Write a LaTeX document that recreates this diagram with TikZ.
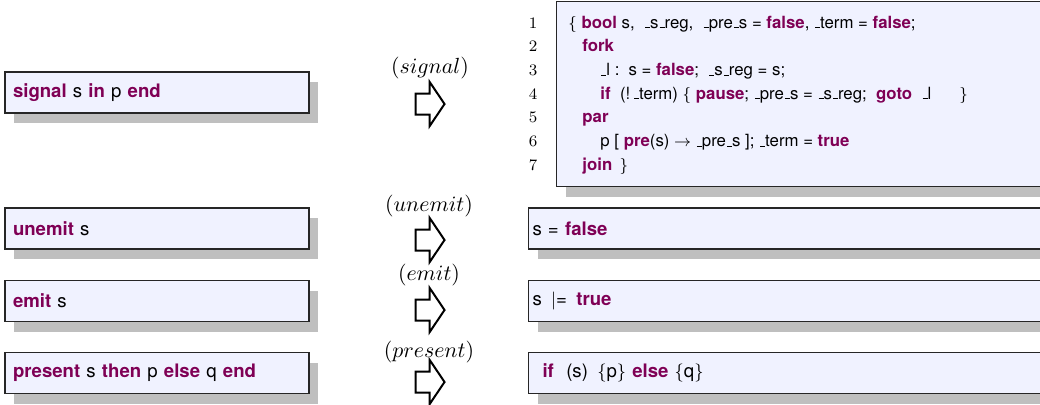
\documentclass[tikz,border=0pt]{standalone}
\usepackage{fontspec}
\setsansfont{TeX Gyre Heros}
\usepackage{tikz}
\usetikzlibrary{shapes.arrows, shadows, positioning}
\definecolor{kwpurple}{RGB}{127,0,85}
\definecolor{boxfill}{RGB}{240,242,255}
\definecolor{shadowgray}{RGB}{191,191,191}
\newcommand{\kw}[1]{\textcolor{kwpurple}{\bfseries #1}}
\newcommand{\us}{\kern.06em\vbox{\hrule width.3em}}
\tikzset{rule box/.style={rectangle,draw=black!85,line width=0.6pt,fill=boxfill,
        drop shadow={shadow xshift=4.5pt,shadow yshift=-5pt,fill=shadowgray,opacity=1},
        font=\sffamily\fontsize{9.3}{11.2}\selectfont,minimum height=20.5pt,
        inner ysep=0pt,align=left},
    src box/.style={rule box,minimum width=152pt,text width=144pt,inner xsep=4pt},
    dst box/.style={rule box,minimum width=266pt,text width=262pt,inner xsep=1.5pt},
    rule arrow/.style={single arrow,draw,line width=1pt,minimum height=14.5pt,
        inner xsep=0pt,inner ysep=4.75pt,single arrow head extend=5.75pt,
        single arrow tip angle=112},
    rule name/.style={font=\fontsize{10.5}{12}\selectfont},
    line no/.style={font=\fontsize{8}{10}\selectfont,anchor=base},
    code line/.style={font=\sffamily\fontsize{8.4}{11.8}\selectfont,
        anchor=base west,inner sep=0pt}}

\begin{document}
\begin{tikzpicture}[x=0.5pt,y=-0.5pt]
    \useasboundingbox (0,0) rectangle (1040,404);
    \clip (0,0) rectangle (1040,404);

    % Source statements
    \node[src box] (sig) at (157,92.5) {\kw{signal} s \kw{in} p \kw{end}};
    \node[src box] (unemit) at (157,228.5) {\kw{unemit} s};
    \node[src box] (emit) at (157,301) {\kw{emit} s};
    \node[src box] (pres) at (157,373) {\kw{present} s \kw{then} p \kw{else} q \kw{end}};

    % Rewrite arrows with rule names
    \node[rule arrow] (sigarr) at (426.5,104) {};
    \node[rule name] (signame) at (430,68) {$(signal)$};
    \node[rule arrow] (unemitarr) at (426.5,240) {};
    \node[rule name] (unemitname) at (429,206) {$(unemit)$};
    \node[rule arrow] (emitarr) at (426.5,310) {};
    \node[rule name] (emitname) at (429,275) {$(emit)$};
    \node[rule arrow] (presarr) at (426.5,382) {};
    \node[rule name] (presname) at (429,352) {$(present)$};

    % Translated code for signal
    \node[rule box,anchor=north west,minimum width=262pt,minimum height=92.5pt]
        (sigres) at (556,1) {};
    \foreach \n in {1,...,7}
        \node[line no] (ln\n) at (533,{28+23.67*(\n-1)}) {$\n$};
    \node[code line] (c1) at (568,28)
        {$\{$ \kw{bool} s, \ \us s\us reg, \ \us pre\us s = \kw{false}, \us term = \kw{false};};
    \node[code line] (c2) at (582,51.67) {\kw{fork}};
    \node[code line] (c3) at (600,75.34) {\us l : \,s = \kw{false}; \ \us s\us reg = s;};
    \node[code line] (c4) at (600,99.01)
        {\kw{if} \ (!\,\us term) $\{$ \kw{pause}; \us pre\us s = \us s\us reg; \ \kw{goto} \ \us l\hspace{14pt}$\}$};
    \node[code line] (c5) at (582,122.68) {\kw{par}};
    \node[code line] (c6) at (600,146.35)
        {p [ \kw{pre}(s) $\rightarrow$ \us pre\us s ]; \us term = \kw{true}};
    \node[code line] (c7) at (582,170.02) {\kw{join} \,$\}$};

    % Translated code for the other rules
    \node[dst box] (unemitres) at (794.5,228.5) {s = \kw{false}};
    \node[dst box] (emitres) at (794.5,301) {s \,$|$= \,\kw{true}};
    \node[dst box] (presres) at (794.5,373) {\hspace*{5pt}\kw{if} \ (s) \,$\{$p$\}$ \kw{else} $\{$q$\}$};
\end{tikzpicture}
\end{document}
